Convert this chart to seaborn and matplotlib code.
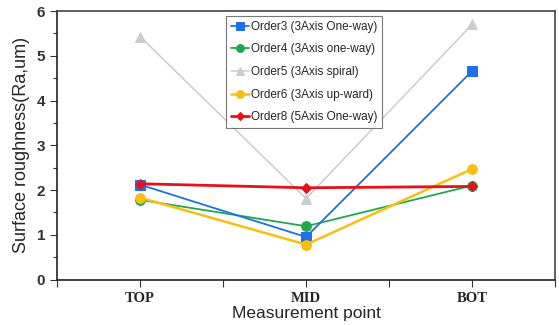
import numpy as np
import pandas as pd
import matplotlib
matplotlib.use("Agg")
import matplotlib.pyplot as plt
import seaborn as sns

# datos
puntos = ["TOP", "MID", "BOT"]
order3 = [2.12, 0.95, 4.66]
order4 = [1.78, 1.19, 2.10]
order5 = [5.43, 1.81, 5.70]
order6 = [1.83, 0.78, 2.47]
order8 = [2.14, 2.05, 2.08]
series = ["Order3 (3Axis One-way)", "Order4 (3Axis one-way)", "Order5 (3Axis spiral)",
          "Order6 (3Axis up-ward)", "Order8 (5Axis One-way)"]

sns.set_style("white")
plt.rcParams['font.family'] = ['Liberation Sans', 'DejaVu Sans']

df = pd.DataFrame({
    "punto": puntos * 5,
    "Ra": order3 + order4 + order5 + order6 + order8,
    "serie": np.repeat(series, 3),
})

colores = ["#1f6fe8", "#1fa84f", "#cccccc", "#f7bf0f", "#e8101a"]
marcadores = ["s", "o", "^", "o", "D"]
tamanos = [7, 7, 7, 7, 5]
anchos = [1.3, 1.3, 1.1, 1.8, 2.0]

fig, ax = plt.subplots(figsize=(5.59, 3.25), dpi=100)
orden_dibujo = [2, 1, 0, 3, 4]
for i in orden_dibujo:
    sub = df[df["serie"] == series[i]]
    sns.lineplot(data=sub, x="punto", y="Ra", ax=ax, color=colores[i], marker=marcadores[i],
                 markersize=tamanos[i], markeredgecolor=colores[i], linewidth=anchos[i],
                 label=series[i], sort=False)

ax.set_xlim(-0.5, 2.5)
ax.set_ylim(0, 6)
ax.set_xticks([0, 1, 2])
ax.set_xticks([-0.5, 0.5, 1.5, 2.5], minor=True)
ax.set_xticklabels(puntos, family="Liberation Serif", fontweight="bold", fontsize=10.5)
ax.set_yticks(range(7))
ax.set_yticks(np.arange(0.5, 6, 1), minor=True)
for lab in ax.get_yticklabels():
    lab.set_fontweight("bold")
    lab.set_fontsize(11)
    lab.set_color("#333333")
ax.tick_params(axis="both", which="both", direction="out", length=5, width=0.8,
               bottom=True, left=True, color="#333333")
ax.tick_params(axis="y", which="minor", length=3)
ax.tick_params(axis="x", which="major", pad=4)
ax.set_xlabel("Measurement point", fontsize=12.5, labelpad=0.5)
ax.set_ylabel("Surface roughness(Ra,um)", fontsize=13, labelpad=5)

ax.spines["left"].set_color("#222222")
ax.spines["bottom"].set_color("#222222")
ax.spines["top"].set_color("#444444")
ax.spines["right"].set_color("#444444")
for s in ax.spines.values():
    s.set_linewidth(1.2)

# orden de la leyenda como en la figura
h, l = ax.get_legend_handles_labels()
mapa = dict(zip(l, h))
leg = ax.legend([mapa[s] for s in series], series, loc="upper left",
                bbox_to_anchor=(0.335, 0.99), frameon=True, fancybox=False,
                prop={"family": "Liberation Sans", "size": 8.5}, handlelength=1.5,
                handletextpad=0.2, borderpad=0.4, labelspacing=0.9, borderaxespad=0.2,
                markerscale=0.8)
leg.get_frame().set_edgecolor("#555555")
leg.get_frame().set_linewidth(0.8)

fig.subplots_adjust(left=0.102, right=0.993, top=0.966, bottom=0.14)
fig.savefig("out.png", dpi=100)
